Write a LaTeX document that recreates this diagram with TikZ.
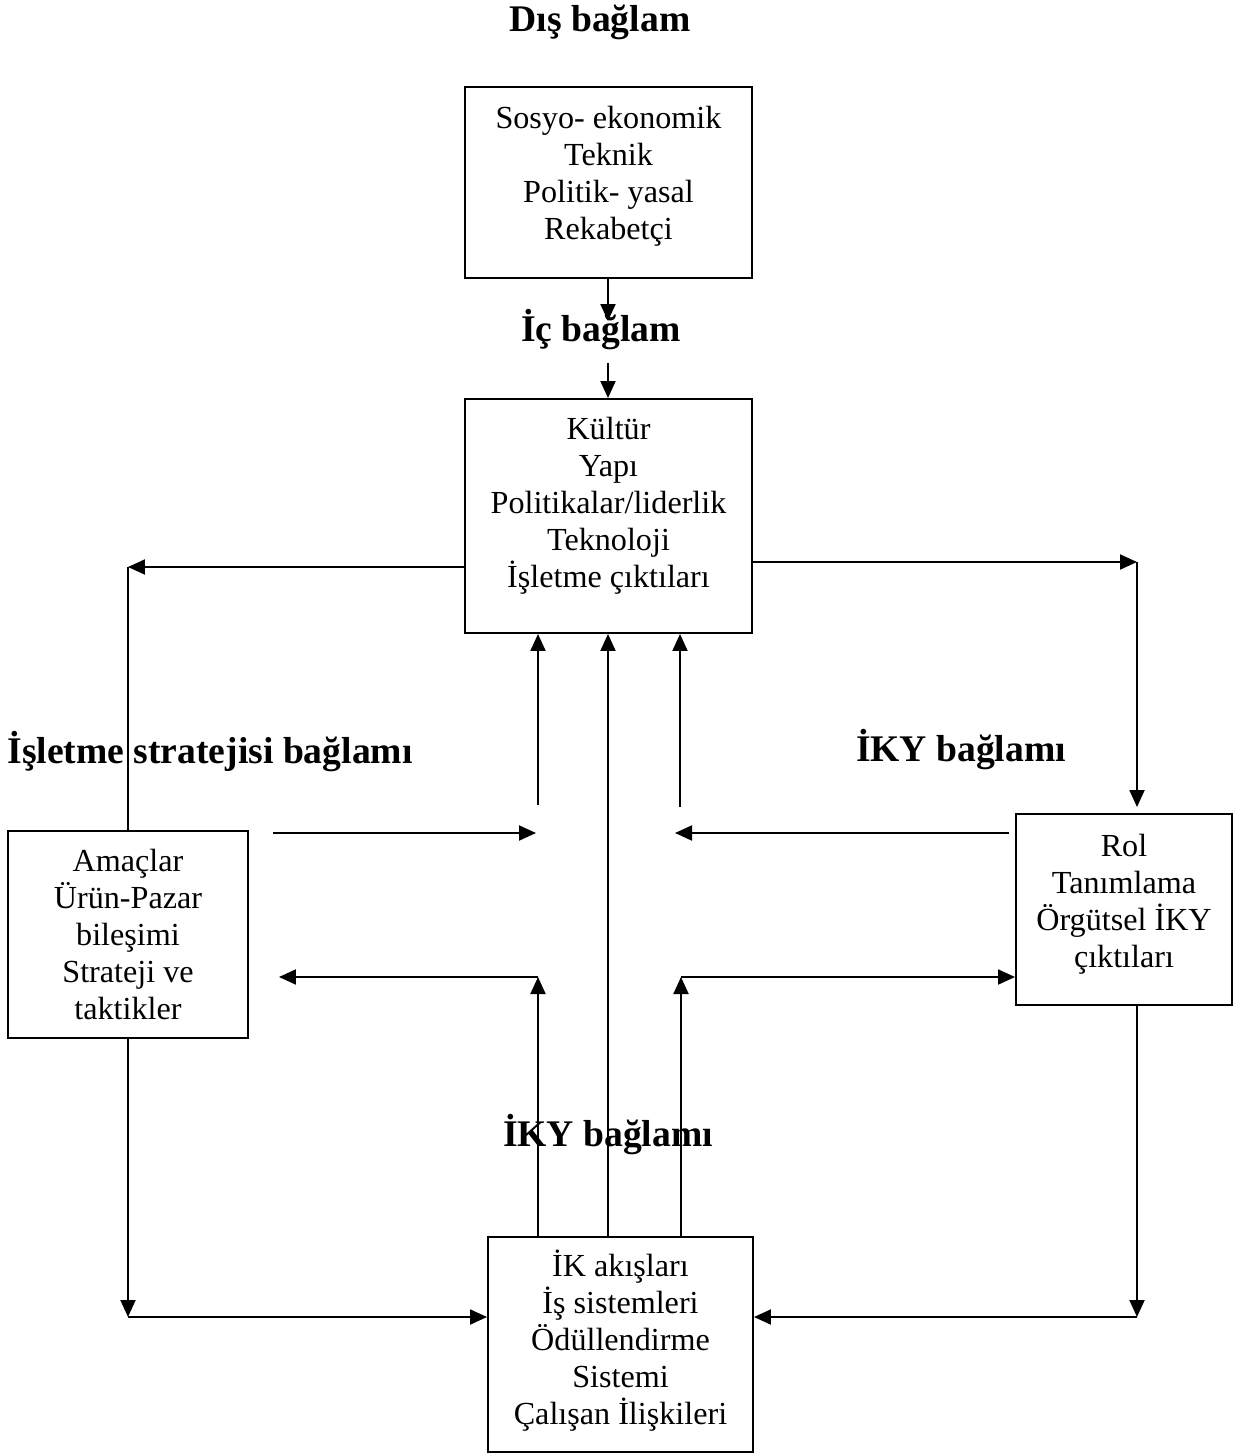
\documentclass[tikz,border=0pt]{standalone}
\usepackage{fontspec}
\setmainfont{Liberation Serif}
\usetikzlibrary{arrows.meta,positioning}

\begin{document}
\begin{tikzpicture}[x=0.02cm, y=-0.02cm,
  box/.style={draw, line width=0.04cm, align=center, inner sep=0pt, font=\fontsize{18.3}{21.06}\selectfont},
  head/.style={font=\fontsize{21.4}{24}\selectfont\bfseries, inner sep=0pt},
  arr/.style={-{Triangle[length=0.34cm, width=0.3cm]}, line width=0.04cm},
  ln/.style={line width=0.04cm}]
  \useasboundingbox (0,0) rectangle (1249,1454);
  \node[head] (dislab) at (600,22)   {Dış bağlam};
  \node[head] (iclab)  at (601,330)  {İç bağlam};
  \node[head] (strlab) at (210,752)  {İşletme stratejisi bağlamı};
  \node[head] (ikylab) at (961,750)  {İKY bağlamı};
  \node[head] (iklab)  at (608,1135) {İKY bağlamı};
  \node[box, minimum width=5.74cm, minimum height=3.82cm, text depth=11pt]  (dis)   at (608.5,182.5) {Sosyo- ekonomik\\Teknik\\Politik- yasal\\Rekabetçi};
  \node[box, minimum width=5.74cm, minimum height=4.68cm, text depth=15pt]  (ic)    at (608.5,516)   {Kültür\\Yapı\\Politikalar/liderlik\\Teknoloji\\İşletme çıktıları};
  \node[box, minimum width=4.8cm,  minimum height=4.14cm] (strat) at (128,934.5)   {Amaçlar\\Ürün-Pazar\\bileşimi\\Strateji ve\\taktikler};
  \node[box, minimum width=4.32cm, minimum height=3.82cm, text depth=9.5pt] (iky)   at (1124,909.5)  {Rol\\Tanımlama\\Örgütsel İKY\\çıktıları};
  \node[box, minimum width=5.3cm,  minimum height=4.3cm, text depth=8.5pt]  (ik)    at (620.5,1344.5) {İK akışları\\İş sistemleri\\Ödüllendirme\\Sistemi\\Çalışan İlişkileri};
  \coordinate (icin)  at (608,321);
  \coordinate (icout) at (608,363);
  \coordinate (clt) at (128,567);
  \coordinate (crt) at (1137,562);
  \coordinate (clb) at (128,1317);
  \coordinate (crb) at (1137,1317);
  \coordinate (a1) at (538,805);
  \coordinate (a2) at (680,807);
  \coordinate (m1) at (536,833);
  \coordinate (m2) at (675,833);
  \coordinate (b0) at (608,977);
  \coordinate (b1) at (538,977);
  \coordinate (b2) at (681,977);
  \draw[arr] (dis.south -| icin) -- (icin);
  \draw[arr] (icout) -- (icout |- ic.north);
  \draw[arr] (ic.west |- clt) -- (clt);
  \draw[ln] (strat.north) -- (clt);
  \draw[arr] (ic.east |- crt) -- (crt);
  \draw[arr, shorten >=0.12cm] (crt) -- (crt |- iky.north);
  \draw[arr] (a1) -- (a1 |- ic.south);
  \draw[arr] (a2) -- (a2 |- ic.south);
  \draw[arr, shorten <=0.48cm] (strat.east |- m1) -- (m1);
  \draw[arr, shorten <=0.12cm] (iky.west |- m2) -- (m2);
  \draw[arr] (b1 |- ik.north) -- (b1);
  \draw[arr, shorten >=0.6cm] (b1) -- (strat.east |- b1);
  \draw[arr] (b0 |- ik.north) -- (b0 |- ic.south);
  \draw[arr] (b2 |- ik.north) -- (b2);
  \draw[arr] (b2) -- (iky.west |- b2);
  \draw[arr] (strat.south) -- (clb);
  \draw[arr] (clb) -- (ik.west |- clb);
  \draw[arr] (crb |- iky.south) -- (crb);
  \draw[arr] (crb) -- (ik.east |- crb);
\end{tikzpicture}
\end{document}
